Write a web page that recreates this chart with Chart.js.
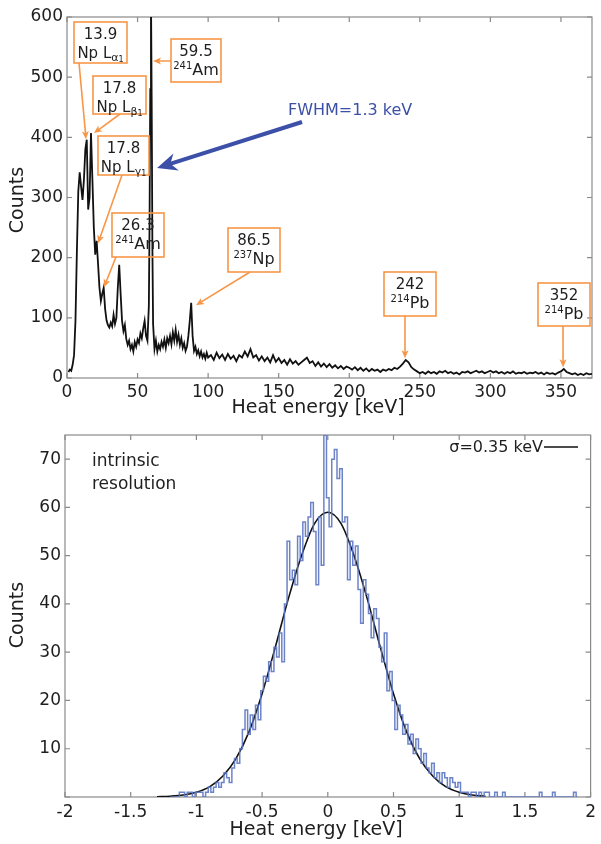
<!DOCTYPE html>
<html>
<head>
<meta charset="utf-8">
<script src="https://cdn.jsdelivr.net/npm/chart.js@4.4.1/dist/chart.umd.min.js"></script>
<style>
  html, body { margin: 0; padding: 0; background: #fff; }
  canvas { display: block; }
</style>
</head>
<body>
<canvas id="spectrum" width="601" height="420"></canvas>
<canvas id="resolution" width="601" height="424"></canvas>
<script>
// ---- top panel: heat spectrum ----
const spectrumLowE = [
  1, 2, 3, 4, 5, 6, 7, 8, 9, 10,
  11, 12, 13, 14, 15, 16, 17, 18, 19, 20,
  21, 22, 23, 24, 25, 26, 27, 28, 29, 30,
  31, 32, 33, 34, 35, 36, 37, 38, 39, 40,
  41, 42, 43, 44, 45, 46, 47, 48, 49, 50,
  51, 52, 53, 54, 55, 56, 57, 58, 58.5, 59,
  59.5, 60, 60.5, 61, 62, 63, 64, 65, 66, 67,
  68, 69, 70, 71, 72, 73, 74, 75, 76, 77,
  78, 79, 80, 81, 82, 83, 84, 85, 86, 87,
  88, 89, 90, 91, 92, 93, 94, 95, 96, 97,
  98, 99, 100,
];
const spectrumLowCounts = [
  10, 14, 12, 22, 38, 95, 210, 310, 342, 318,
  296, 330, 380, 396, 280, 300, 407, 330, 250, 205,
  228, 190, 150, 128, 140, 150, 115, 96, 88, 84,
  92, 86, 105, 90, 100, 150, 188, 140, 95, 78,
  88, 65, 55, 62, 48, 55, 44, 60, 52, 64,
  58, 74, 66, 82, 95, 70, 62, 120, 260, 480,
  640, 460, 220, 90, 48, 62, 44, 55, 48, 60,
  52, 64, 50, 66, 58, 70, 56, 76, 62, 80,
  60, 72, 55, 66, 50, 58, 45, 52, 70, 95,
  125, 70, 45, 52, 40, 46, 36, 44, 34, 40,
  32, 42, 34,
];
// 2 keV bins from 102 keV upwards
const spectrumHighStart = 102;
const spectrumHighStep = 2;
const spectrumHighCounts = [
  38, 30, 42, 33, 39, 30, 40, 32, 37, 28,
  38, 34, 44, 36, 48, 34, 38, 29, 36, 28,
  34, 26, 38, 27, 33, 25, 30, 22, 31, 24,
  28, 22, 26, 30, 34, 25, 28, 20, 26, 19,
  24, 18, 23, 17, 21, 16, 20, 15, 19, 17,
  14, 18, 13, 17, 12, 16, 11, 15, 12, 14,
  10, 14, 12, 15, 13, 17, 15, 19, 24, 30,
  26, 18, 14, 11, 8, 10, 7, 11, 8, 10,
  7, 11, 9, 12, 8, 10, 7, 9, 6, 10,
  9, 11, 8, 10, 12, 9, 11, 8, 10, 12,
  9, 11, 8, 10, 7, 10, 8, 11, 7, 9,
  8, 10, 7, 9, 8, 10, 7, 9, 6, 9,
  7, 8, 6, 9, 11, 15, 10, 8, 6, 8,
  5, 7, 5, 8, 6, 7,
];
const spectrumTicksX = [0, 50, 100, 150, 200, 250, 300, 350];
const spectrumTicksY = [0, 100, 200, 300, 400, 500, 600];

// peak labels
const peakEnergies = ["13.9", "17.8", "17.8", "26.3", "59.5", "86.5", "242", "352"];
const peakLines = ["Np|α", "Np|β", "Np|γ", "241|Am", "241|Am", "237|Np", "214|Pb", "214|Pb"];
const peakTipE = [13.5, 19.1, 22.0, 26.2, 61.0, 91.4, 239.5, 351.5];
const peakTipCounts = [397, 407, 224, 151, 527, 121, 33, 18];

// ---- bottom panel: intrinsic resolution ----
const histStart = -1.2;
const histBin = 0.02;
const histCounts = [
  0, 0, 0, 0, 1, 1, 0, 1, 1, 0,
  1, 1, 1, 0, 1, 2, 1, 2, 3, 2,
  3, 5, 4, 3, 6, 8, 7, 10, 14, 18,
  13, 17, 14, 19, 16, 22, 25, 24, 28, 26,
  31, 29, 34, 28, 40, 53, 45, 47, 44, 54,
  49, 57, 54, 58, 61, 55, 44, 58, 48, 75,
  62, 56, 70, 72, 66, 68, 57, 58, 45, 53,
  48, 52, 43, 36, 45, 42, 38, 33, 39, 37,
  31, 28, 34, 22, 26, 20, 14, 19, 17, 13,
  15, 11, 13, 9, 12, 10, 7, 9, 6, 5,
  7, 4, 5, 3, 5, 4, 2, 4, 3, 2,
  3, 1, 1, 1, 0, 1, 1, 0, 1, 0,
  1,
];
const histTailE = [1.28, 1.34, 1.62, 1.72, 1.88];
const histTailCounts = [1, 1, 1, 1, 1];

const fitE = [-1.3, -1.2, -1.1, -1.0, -0.9, -0.8, -0.7, -0.6, -0.5, -0.4, -0.3, -0.2, -0.1,
  0, 0.1, 0.2, 0.3, 0.4, 0.5, 0.6, 0.7, 0.8, 0.9, 1.0, 1.1, 1.2];
const fitCounts = [0.05, 0.17, 0.42, 0.99, 2.1, 4.3, 7.9, 13.5, 21.4, 31.0, 41.1, 50.0, 56.7,
  59.0, 56.7, 50.0, 41.1, 31.0, 21.4, 13.5, 7.9, 4.3, 2.1, 0.99, 0.42, 0.17];
const resolutionTicksX = [-2, -1.5, -1, -0.5, 0, 0.5, 1, 1.5, 2];
const resolutionTicksY = [0, 10, 20, 30, 40, 50, 60, 70];

// ---- styles ----
const FONT = '"DejaVu Sans", sans-serif';
const TEXT = "#1e1e1e";
const AXIS = "#8a8a8a";
const ORANGE = "#f79646";
const BLUE = "#3c50a8";
const HIST_BLUE = "rgba(92, 118, 194, 0.9)";
const tickFont = { family: FONT, size: 17 };

const spectrumPoints = spectrumLowE.map((e, i) => ({ x: e, y: spectrumLowCounts[i] }))
  .concat(spectrumHighCounts.map((c, i) => ({ x: spectrumHighStart + i * spectrumHighStep, y: c })));

const histPoints = histCounts.map((c, i) => ({ x: +(histStart + i * histBin).toFixed(2), y: c }));
histTailE.forEach((e, i) => {
  histPoints.push({ x: e - histBin, y: 0 }, { x: e, y: histTailCounts[i] }, { x: e + histBin, y: 0 });
});

const fitPoints = fitE.map((e, i) => ({ x: e, y: fitCounts[i] }));

function useTicks(values) {
  return (scale) => { scale.ticks = values.map((v) => ({ value: v })); };
}

// box with inward ticks on all four sides
const framePlugin = {
  id: "frame",
  beforeDatasetsDraw(chart) {
    const { ctx, chartArea: a, scales } = chart;
    ctx.save();
    ctx.strokeStyle = AXIS;
    ctx.lineWidth = 1.2;
    ctx.strokeRect(a.left, a.top, a.right - a.left, a.bottom - a.top);
    ctx.beginPath();
    scales.x.ticks.forEach((t) => {
      const px = scales.x.getPixelForValue(t.value);
      ctx.moveTo(px, a.bottom); ctx.lineTo(px, a.bottom - 5);
      ctx.moveTo(px, a.top); ctx.lineTo(px, a.top + 5);
    });
    scales.y.ticks.forEach((t) => {
      const py = scales.y.getPixelForValue(t.value);
      ctx.moveTo(a.left, py); ctx.lineTo(a.left + 5, py);
      ctx.moveTo(a.right, py); ctx.lineTo(a.right - 5, py);
    });
    ctx.stroke();
    ctx.restore();
  },
};

function richText(ctx, segs, cx, y) {
  let w = 0;
  segs.forEach((s) => { ctx.font = `${s.size}px ${FONT}`; w += ctx.measureText(s.t).width; });
  let x = cx - w / 2;
  segs.forEach((s) => {
    ctx.font = `${s.size}px ${FONT}`;
    ctx.fillText(s.t, x, y + (s.dy || 0));
    x += ctx.measureText(s.t).width;
  });
}

function labelSegments(code) {
  const [a, b] = code.split("|");
  if (a === "Np" && "αβγ".includes(b)) {
    return [{ t: "Np L", size: 15 }, { t: b, size: 11, dy: 4 }, { t: "1", size: 8, dy: 6 }];
  }
  return [{ t: a, size: 10, dy: -5 }, { t: b, size: 16 }];
}

function arrow(ctx, x1, y1, x2, y2, color, width, headLen, headHalf, notch) {
  const ang = Math.atan2(y2 - y1, x2 - x1);
  const c = Math.cos(ang), s = Math.sin(ang);
  const bx = x2 - headLen * c, by = y2 - headLen * s;
  ctx.strokeStyle = color;
  ctx.lineWidth = width;
  ctx.beginPath();
  ctx.moveTo(x1, y1);
  ctx.lineTo(x2 - headLen * 0.6 * c, y2 - headLen * 0.6 * s);
  ctx.stroke();
  ctx.fillStyle = color;
  ctx.beginPath();
  ctx.moveTo(x2, y2);
  ctx.lineTo(bx + headHalf * s, by - headHalf * c);
  ctx.lineTo(x2 - headLen * notch * c, y2 - headLen * notch * s);
  ctx.lineTo(bx - headHalf * s, by + headHalf * c);
  ctx.closePath();
  ctx.fill();
}

// label boxes in pixels, arrow start points in pixels
const peakBoxes = [
  [74, 22, 127, 63], [93, 76, 146, 114], [98, 136, 149, 175], [112, 213, 164, 257],
  [171, 39, 221, 82], [228, 228, 280, 272], [384, 272, 436, 316], [538, 283, 590, 326],
];
const arrowStarts = [[79, 63], [120, 114], [122, 175], [116, 257], [171, 61], [250, 272], [405, 316], [563, 326]];

function axisTitles(ctx, xTitle, xTitlePos, yTitlePos) {
  ctx.fillStyle = TEXT;
  ctx.textAlign = "center";
  ctx.textBaseline = "middle";
  ctx.font = `19px ${FONT}`;
  ctx.fillText(xTitle, xTitlePos[0], xTitlePos[1]);
  ctx.save();
  ctx.translate(yTitlePos[0], yTitlePos[1]);
  ctx.rotate(-Math.PI / 2);
  ctx.fillText("Counts", 0, 0);
  ctx.restore();
}

const spectrumNotes = {
  id: "spectrumNotes",
  afterDatasetsDraw(chart) {
    const { ctx, scales: { x, y } } = chart;
    ctx.save();
    ctx.textAlign = "left";
    ctx.textBaseline = "middle";
    peakBoxes.forEach((b, i) => {
      const [l, t, r, bt] = b;
      ctx.strokeStyle = ORANGE;
      ctx.lineWidth = 1.6;
      ctx.strokeRect(l, t, r - l, bt - t);
      ctx.fillStyle = TEXT;
      richText(ctx, [{ t: peakEnergies[i], size: 15 }], (l + r) / 2, t + 13);
      richText(ctx, labelSegments(peakLines[i]), (l + r) / 2, t + 32);
      const [sx, sy] = arrowStarts[i];
      arrow(ctx, sx, sy, x.getPixelForValue(peakTipE[i]), y.getPixelForValue(peakTipCounts[i]),
        ORANGE, 1.6, 8, 3.5, 0.75);
    });
    ctx.fillStyle = BLUE;
    ctx.font = `16px ${FONT}`;
    ctx.fillText("FWHM=1.3 keV", 288, 111);
    arrow(ctx, 302, 122, x.getPixelForValue(63.8), y.getPixelForValue(349), BLUE, 4, 20, 9, 0.7);
    axisTitles(ctx, "Heat energy [keV]", [318, 408], [18, 200]);
    ctx.restore();
  },
};

const resolutionNotes = {
  id: "resolutionNotes",
  afterDatasetsDraw(chart) {
    const { ctx } = chart;
    ctx.save();
    ctx.fillStyle = TEXT;
    ctx.textBaseline = "middle";
    ctx.textAlign = "left";
    ctx.font = `17px ${FONT}`;
    ctx.fillText("intrinsic", 92, 42);
    ctx.fillText("resolution", 92, 65);
    ctx.textAlign = "right";
    ctx.font = `16px ${FONT}`;
    ctx.fillText("σ=0.35 keV", 543, 28);
    ctx.strokeStyle = "#111";
    ctx.lineWidth = 1.4;
    ctx.beginPath();
    ctx.moveTo(544, 27);
    ctx.lineTo(578, 27);
    ctx.stroke();
    axisTitles(ctx, "Heat energy [keV]", [316, 410], [18, 195]);
    ctx.restore();
  },
};

const baseOptions = {
  responsive: false,
  animation: false,
  events: [],
  plugins: { legend: { display: false }, tooltip: { enabled: false } },
};

const plainLabel = (v) => String(Number(Number(v).toFixed(2)));

new Chart(document.getElementById("spectrum"), {
  type: "line",
  data: {
    datasets: [{
      data: spectrumPoints,
      borderColor: "#111",
      borderWidth: 1.8,
      pointRadius: 0,
      tension: 0,
    }],
  },
  options: {
    ...baseOptions,
    layout: { padding: { top: 17, right: 9, left: 0, bottom: 0 } },
    scales: {
      x: {
        type: "linear", min: 0, max: 372,
        grid: { display: false, drawTicks: false }, border: { display: false },
        ticks: { padding: 4, maxRotation: 0, autoSkip: false, color: TEXT, font: tickFont, callback: plainLabel },
        afterBuildTicks: useTicks(spectrumTicksX),
        afterFit: (s) => { s.height = 42; },
      },
      y: {
        min: 0, max: 600,
        grid: { display: false, drawTicks: false }, border: { display: false },
        ticks: { padding: 4, color: TEXT, font: tickFont, callback: plainLabel },
        afterBuildTicks: useTicks(spectrumTicksY),
        afterFit: (s) => { s.width = 67; },
      },
    },
  },
  plugins: [framePlugin, spectrumNotes],
});

new Chart(document.getElementById("resolution"), {
  type: "line",
  data: {
    datasets: [
      { data: histPoints, stepped: "middle", borderColor: HIST_BLUE, borderWidth: 1.5, pointRadius: 0 },
      { data: fitPoints, borderColor: "#111", borderWidth: 1.6, pointRadius: 0, cubicInterpolationMode: "monotone" },
    ],
  },
  options: {
    ...baseOptions,
    layout: { padding: { top: 15, right: 8, left: 0, bottom: 0 } },
    scales: {
      x: {
        type: "linear", min: -2, max: 2,
        grid: { display: false, drawTicks: false }, border: { display: false },
        ticks: { padding: 5, maxRotation: 0, autoSkip: false, color: TEXT, font: tickFont, callback: plainLabel },
        afterBuildTicks: useTicks(resolutionTicksX),
        afterFit: (s) => { s.height = 47; },
      },
      y: {
        min: 0, max: 75,
        grid: { display: false, drawTicks: false }, border: { display: false },
        ticks: { padding: 4, color: TEXT, font: tickFont, callback: (v) => (v === 0 ? "" : plainLabel(v)) },
        afterBuildTicks: useTicks(resolutionTicksY),
        afterFit: (s) => { s.width = 65; },
      },
    },
  },
  plugins: [framePlugin, resolutionNotes],
});
</script>
</body>
</html>
